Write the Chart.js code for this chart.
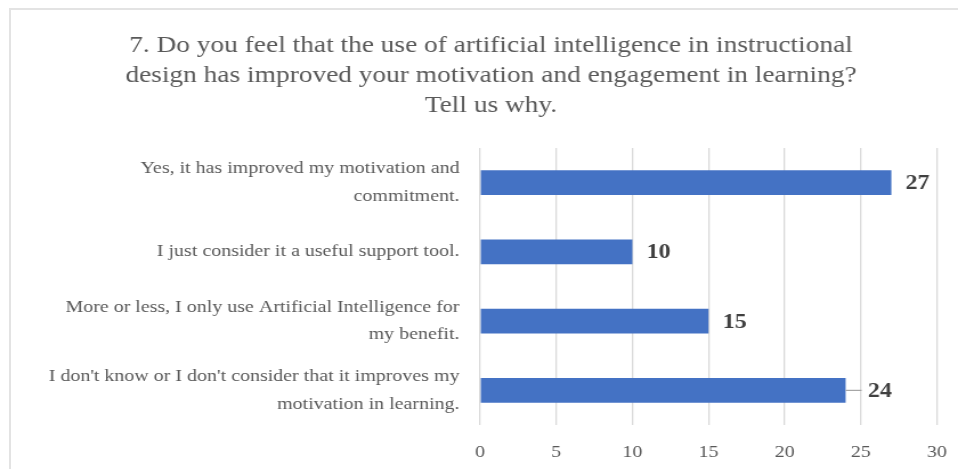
<!DOCTYPE html>
<html>
<head>
<meta charset="utf-8">
<script src="https://cdn.jsdelivr.net/npm/chart.js@4.4.1/dist/chart.umd.min.js"></script>
<style>
  html, body { margin: 0; padding: 0; background: #fff; overflow: hidden; }
  #frame { position: absolute; left: 9px; top: 8px; width: 960px; height: 470px;
           border-left: 2px solid #e3e3e3; border-top: 2px solid #e3e3e3; }
  /* el original está ligeramente estirado en horizontal */
  #wrap { position: absolute; left: 0; top: 0; width: 840px; height: 469px;
          transform: scaleX(1.1405); transform-origin: 0 0; }
</style>
</head>
<body>
<div id="frame"></div>
<div id="wrap"><canvas id="chart"></canvas></div>
<script>
// Datos del gráfico
const categories = [
    ["Yes, it has improved my motivation and", "commitment."],
    ["I just consider it a useful support tool."],
    ["More or less, I only use Artificial Intelligence for", "my benefit."],
    ["I don't know or I don't consider that it improves my", "motivation in learning."]
];
const responses = [27, 10, 15, 24];
const xTicks = [0, 5, 10, 15, 20, 25, 30];
const titleLines = [
    "7. Do you feel that the use of artificial intelligence in instructional",
    "design has improved your motivation and engagement in learning?",
    "Tell us why."
];

const serif = "'Liberation Serif', 'Times New Roman', serif";

// Etiquetas de valor al final de cada barra
const valueLabels = {
    id: "valueLabels",
    afterDatasetsDraw(chart) {
        const ctx = chart.ctx;
        const meta = chart.getDatasetMeta(0);
        ctx.save();
        ctx.font = "bold 21px " + serif;
        ctx.fillStyle = "#404040";
        ctx.textBaseline = "middle";
        meta.data.forEach((bar, i) => {
            const value = chart.data.datasets[0].data[i];
            let gap = 12.5;
            if (i === 3) {
                // línea guía como en la etiqueta movida de Excel
                gap = 19.5;
                ctx.strokeStyle = "#a6a6a6";
                ctx.lineWidth = 1.2;
                ctx.beginPath();
                ctx.moveTo(bar.x, bar.y);
                ctx.lineTo(bar.x + 14, bar.y);
                ctx.stroke();
            }
            ctx.fillText(String(value), bar.x + gap, bar.y + 1);
        });
        ctx.restore();
    }
};

new Chart(document.getElementById("chart"), {
    type: "bar",
    data: {
        labels: categories,
        datasets: [{
            data: responses,
            backgroundColor: "#4472C4",
            borderWidth: 0,
            categoryPercentage: 1,
            barPercentage: 0.36
        }]
    },
    options: {
        indexAxis: "y",
        responsive: true,
        maintainAspectRatio: false,
        animation: false,
        layout: { padding: { top: 0, right: 18.4, bottom: 0, left: 39.4 } },
        plugins: {
            legend: { display: false },
            tooltip: { enabled: false },
            title: {
                display: true,
                text: titleLines,
                color: "#595959",
                font: { family: serif, size: 24, weight: "normal", lineHeight: 1.25 },
                padding: { top: 30.5, bottom: 27.5 }
            }
        },
        scales: {
            x: {
                min: 0,
                max: 30,
                afterBuildTicks(scale) {
                    scale.ticks = xTicks.map(v => ({ value: v }));
                },
                afterFit(scale) {
                    scale.height = 44;
                    scale.paddingLeft = 0;
                    scale.paddingRight = 0;
                },
                grid: { color: "#d9d9d9", lineWidth: 1.3, drawTicks: false },
                border: { display: false },
                ticks: {
                    color: "#595959",
                    font: { family: serif, size: 17.5 },
                    padding: 17
                }
            },
            y: {
                afterFit(scale) { scale.width = 381.5; },
                grid: { display: false },
                border: { display: false },
                ticks: {
                    color: "#595959",
                    font: { family: serif, size: 17.5, lineHeight: 1.57 },
                    padding: 10
                }
            }
        }
    },
    plugins: [valueLabels]
});
</script>
</body>
</html>
